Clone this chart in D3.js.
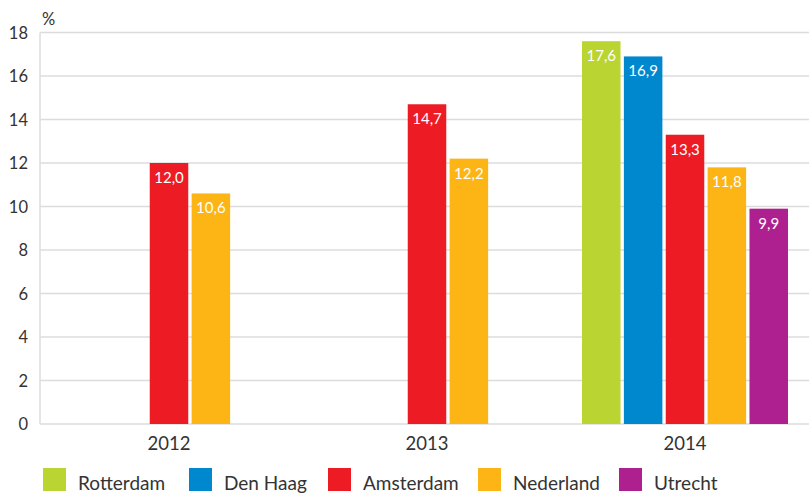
<html>
<head>
<meta charset="utf-8">
<script src="https://d3js.org/d3.v7.min.js"></script>
<style>
  body { margin: 0; background: #fff; }
  text { font-family: Lato, "Noto Sans", sans-serif; }
</style>
</head>
<body>
<div id="chartContainer"></div>
<script type="text/javascript">
  // data
  var years = ["2012", "2013", "2014"];
  var cities = ["Rotterdam", "Den Haag", "Amsterdam", "Nederland", "Utrecht"];
  var colors = ["#bad532", "#0088cf", "#ed1c24", "#fdb515", "#ae1f8f"];
  var rotterdam = [null, null, 17.6];
  var denHaag   = [null, null, 16.9];
  var amsterdam = [12.0, 14.7, 13.3];
  var nederland = [10.6, 12.2, 11.8];
  var utrecht   = [null, null, 9.9];
  var yTicks = [0, 2, 4, 6, 8, 10, 12, 14, 16, 18];

  function draw() {
    var series = [rotterdam, denHaag, amsterdam, nederland, utrecht];
    var width = 809, height = 494;
    var plotLeft = 40, plotTop = 32.5, plotBottom = 424;

    var svg = d3.select("#chartContainer").append("svg")
      .attr("width", width).attr("height", height);

    var y = d3.scaleLinear().domain([0, 18]).range([plotBottom, plotTop]);
    var x0 = d3.scaleBand().domain(years).range([plotLeft, plotLeft + 3 * 258]);
    var x1 = d3.scaleBand().domain(cities).range([26, 232]).paddingInner(0.08);

    // gridlines + tick labels
    svg.append("g").selectAll("line").data(yTicks).enter().append("line")
      .attr("x1", plotLeft).attr("x2", width)
      .attr("y1", function(d) { return y(d); }).attr("y2", function(d) { return y(d); })
      .style("stroke", "#dcdcdc").style("stroke-width", 1.5);

    svg.append("line")
      .attr("x1", plotLeft).attr("x2", plotLeft).attr("y1", plotTop).attr("y2", plotBottom)
      .style("stroke", "#dcdcdc").style("stroke-width", 1.5);

    svg.append("g").selectAll("text").data(yTicks).enter().append("text")
      .attr("x", 28).attr("y", function(d) { return y(d) + 6; })
      .attr("text-anchor", "end")
      .style("font-size", "16.5px").style("fill", "#333")
      .text(function(d) { return d; });

    svg.append("text").attr("x", 42).attr("y", 25)
      .style("font-size", "16.5px").style("fill", "#333").text("%");

    // year labels
    svg.append("g").selectAll("text").data(years).enter().append("text")
      .attr("x", function(d) { return x0(d) + x0.bandwidth() / 2; })
      .attr("y", 450)
      .attr("text-anchor", "middle")
      .style("font-size", "18.5px").style("fill", "#333")
      .text(function(d) { return d; });

    // bars
    var bars = [];
    cities.forEach(function(c, ci) {
      series[ci].forEach(function(v, yi) {
        if (v !== null) bars.push({ city: c, year: years[yi], value: v, color: colors[ci] });
      });
    });

    var g = svg.append("g");
    g.selectAll("rect").data(bars).enter().append("rect")
      .attr("x", function(d) { return x0(d.year) + x1(d.city); })
      .attr("y", function(d) { return y(d.value); })
      .attr("width", x1.bandwidth())
      .attr("height", function(d) { return plotBottom - y(d.value); })
      .style("fill", function(d) { return d.color; });

    g.selectAll("text").data(bars).enter().append("text")
      .attr("x", function(d) { return x0(d.year) + x1(d.city) + x1.bandwidth() / 2; })
      .attr("y", function(d) { return y(d.value) + 20; })
      .attr("text-anchor", "middle")
      .style("font-size", "15px").style("fill", "#fff")
      .text(function(d) { return d.value.toFixed(1).replace(".", ","); });

    // legend
    var legendX = [43, 189, 328, 478, 619];
    var legend = svg.append("g").selectAll("g").data(cities).enter().append("g")
      .attr("transform", function(d, i) { return "translate(" + legendX[i] + ",468)"; });
    legend.append("rect").attr("width", 23).attr("height", 23)
      .style("fill", function(d, i) { return colors[i]; });
    legend.append("text").attr("x", 35).attr("y", 22)
      .style("font-size", "19px").style("fill", "#333")
      .text(function(d) { return d; });
  }

  draw();
</script>
</body>
</html>
